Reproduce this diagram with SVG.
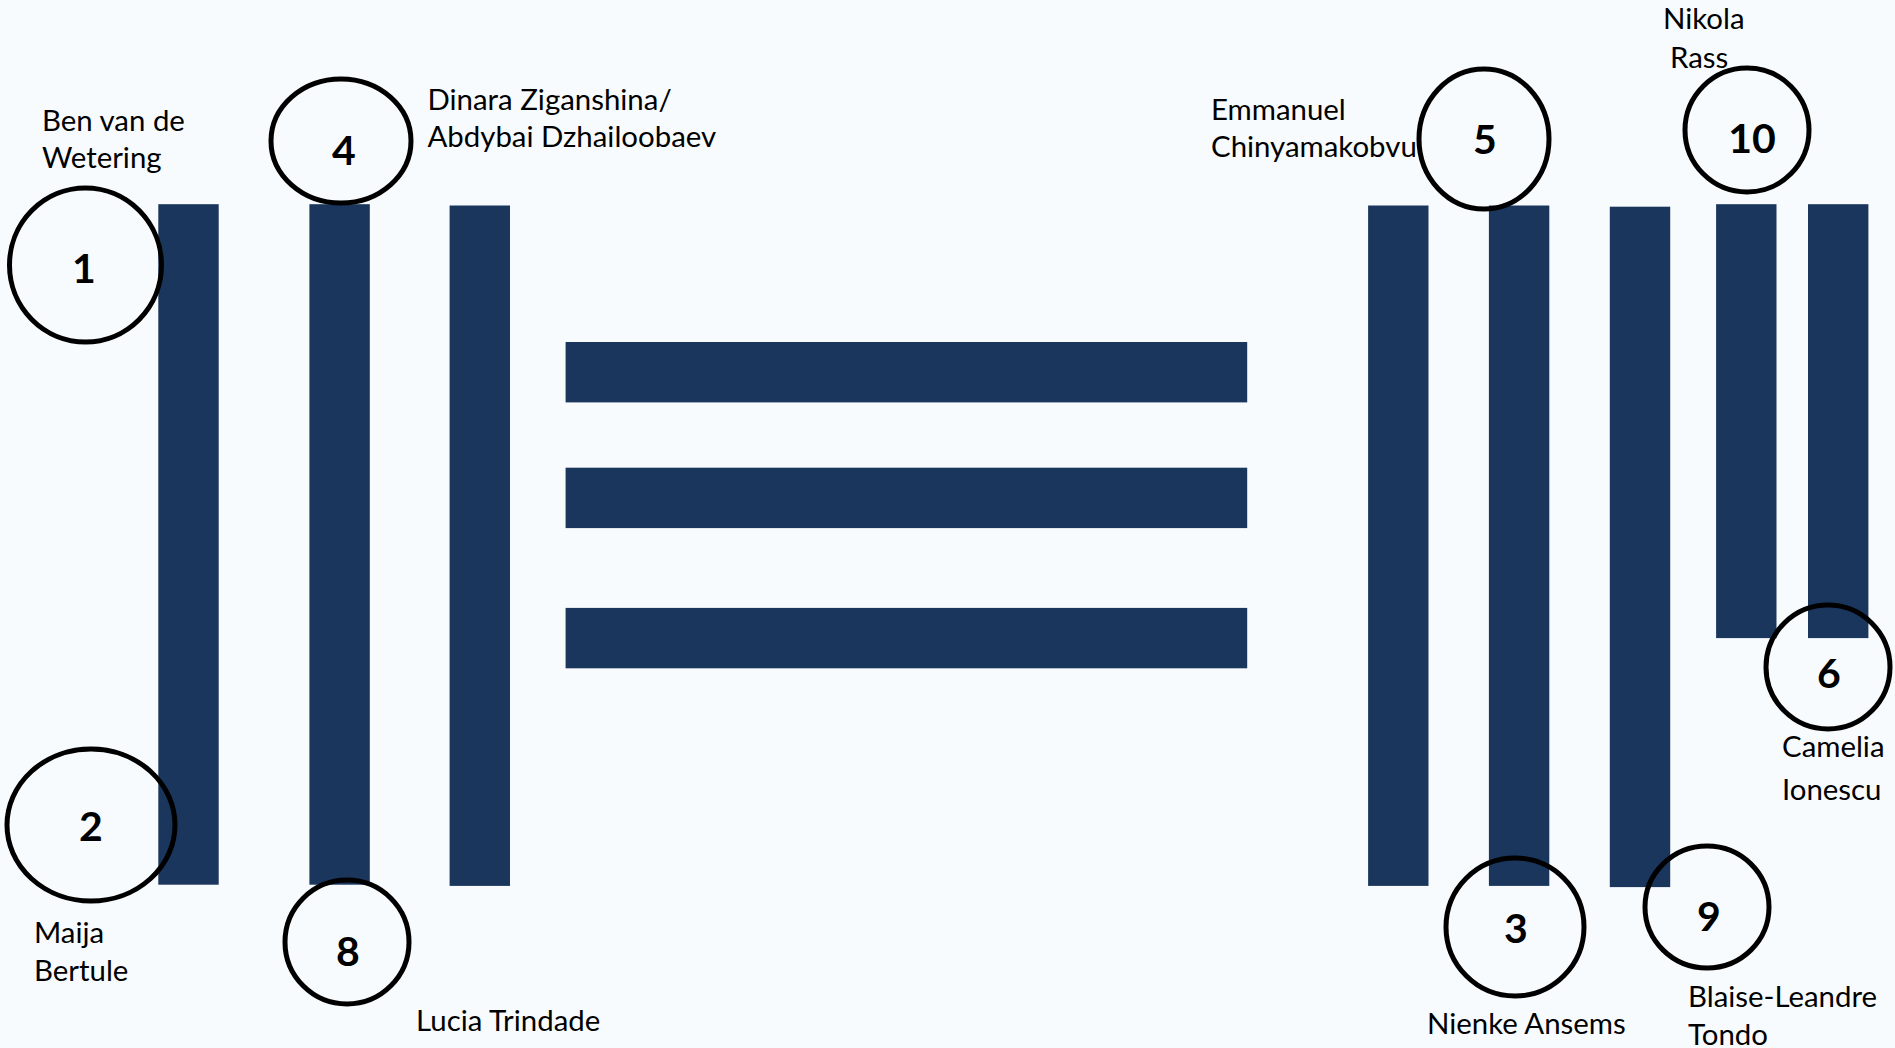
<svg xmlns="http://www.w3.org/2000/svg" width="1895" height="1048" viewBox="0 0 1895 1048">
<style>
.bg{fill:#F8FBFD}
.bar{fill:#1A365D}
.ring{fill:none;stroke:#000;stroke-width:5}
.num{font-family:Lato,"Liberation Sans",sans-serif;font-weight:bold;font-size:41px;fill:#000;text-anchor:middle}
.lbl{font-family:Lato,"Liberation Sans",sans-serif;font-size:29.4px;fill:#000}
</style>
<rect class="bg" x="0" y="0" width="1895" height="1048"/>
<g id="bars">
<rect class="bar" x="158.3" y="204.2" width="60.4" height="680.5"/>
<rect class="bar" x="309.4" y="204.2" width="60.4" height="680.5"/>
<rect class="bar" x="449.6" y="205.5" width="60.4" height="680.4"/>
<rect class="bar" x="1368.1" y="205.5" width="60.4" height="680.4"/>
<rect class="bar" x="1488.9" y="205.5" width="60.4" height="680.4"/>
<rect class="bar" x="1609.8" y="206.7" width="60.4" height="680.4"/>
<rect class="bar" x="1716.1" y="204.2" width="60.4" height="433.9"/>
<rect class="bar" x="1808.0" y="204.2" width="60.4" height="433.9"/>
<rect class="bar" x="565.6" y="342.0" width="681.6" height="60.4"/>
<rect class="bar" x="565.6" y="467.7" width="681.6" height="60.4"/>
<rect class="bar" x="565.6" y="607.9" width="681.6" height="60.4"/>
</g>
<g id="connectors"/>
<g id="node1">
<ellipse class="ring" cx="85.5" cy="265" rx="76" ry="77"/>
<text class="num" x="84" y="283">1</text>
<text class="lbl" x="42" y="131">Ben van de</text>
<text class="lbl" x="42" y="168">Wetering</text>
</g>
<g id="node2">
<ellipse class="ring" cx="91" cy="825" rx="84" ry="76"/>
<text class="num" x="91" y="841">2</text>
<text class="lbl" x="34" y="943">Maija</text>
<text class="lbl" x="34" y="981">Bertule</text>
</g>
<g id="node3">
<ellipse class="ring" cx="1515" cy="927" rx="69" ry="69"/>
<text class="num" x="1516" y="943">3</text>
<text class="lbl" x="1427" y="1034">Nienke Ansems</text>
</g>
<g id="node4">
<ellipse class="ring" cx="341" cy="141" rx="70" ry="62"/>
<text class="num" x="344" y="165">4</text>
<text class="lbl" x="427.5" y="110">Dinara Ziganshina/</text>
<text class="lbl" x="427.5" y="147">Abdybai Dzhailoobaev</text>
</g>
<g id="node5">
<ellipse class="ring" cx="1484" cy="139" rx="65" ry="70"/>
<text class="num" x="1485" y="154">5</text>
<text class="lbl" x="1211" y="120">Emmanuel</text>
<text class="lbl" x="1211" y="157">Chinyamakobvu</text>
</g>
<g id="node6">
<ellipse class="ring" cx="1828" cy="667" rx="62" ry="62"/>
<text class="num" x="1829" y="688">6</text>
<text class="lbl" x="1782" y="757">Camelia</text>
<text class="lbl" x="1782" y="800">Ionescu</text>
</g>
<g id="node8">
<ellipse class="ring" cx="347" cy="942" rx="62" ry="62"/>
<text class="num" x="348" y="966">8</text>
<text class="lbl" x="416" y="1031">Lucia Trindade</text>
</g>
<g id="node9">
<ellipse class="ring" cx="1707" cy="907" rx="62" ry="61"/>
<text class="num" x="1709" y="931">9</text>
<text class="lbl" x="1688" y="1007">Blaise-Leandre</text>
<text class="lbl" x="1688" y="1045">Tondo</text>
</g>
<g id="node10">
<ellipse class="ring" cx="1747" cy="130" rx="62" ry="62"/>
<text class="num" x="1752" y="153">10</text>
<text class="lbl" x="1663" y="29">Nikola</text>
<text class="lbl" x="1670" y="68">Rass</text>
</g>
</svg>
